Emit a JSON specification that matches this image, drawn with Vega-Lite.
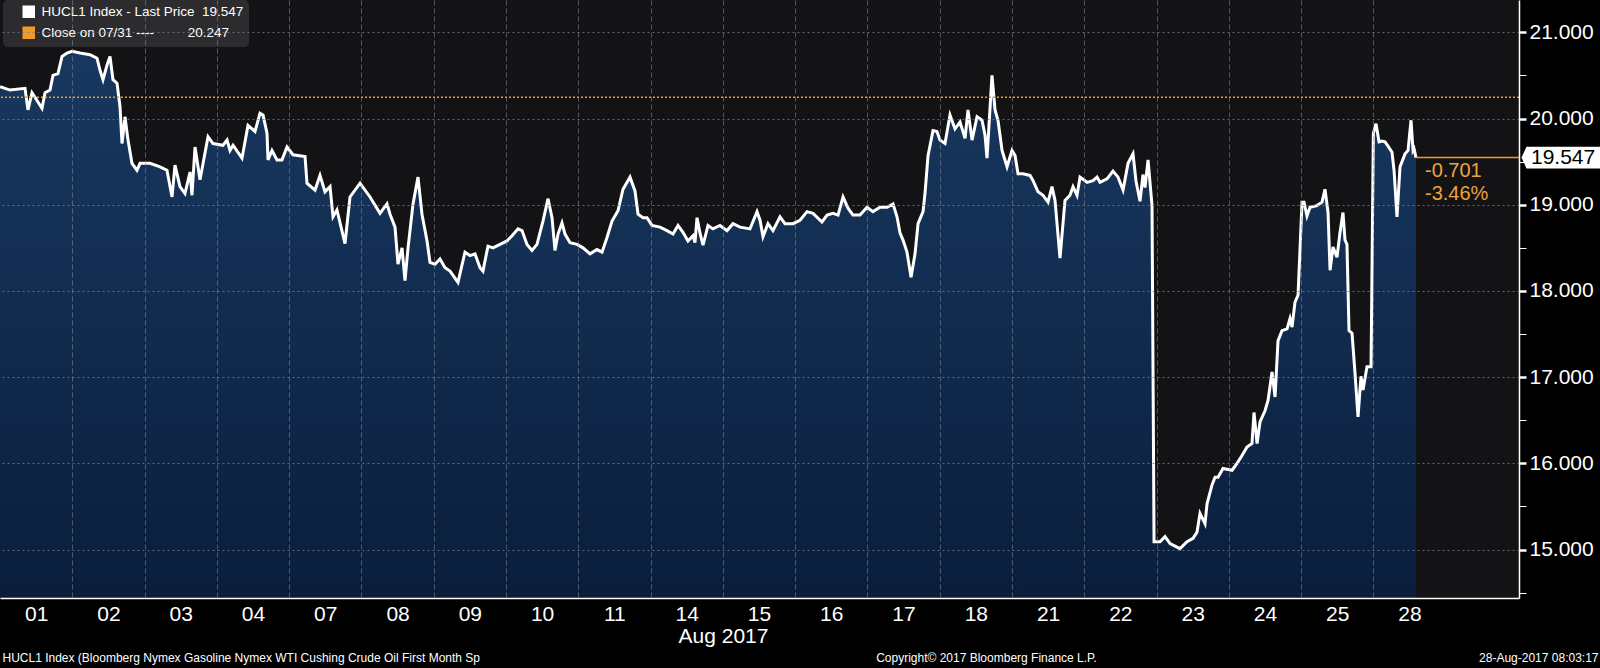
{
  "$schema": "https://vega.github.io/schema/vega-lite/v6.json",
  "width": 1519,
  "height": 598,
  "autosize": "none",
  "padding": {"left": 0, "top": 0, "right": 81, "bottom": 70},
  "background": "#000000",
  "config": {
    "view": {"fill": "#131315", "stroke": null},
    "font": "Liberation Sans",
    "axis": {"labelFont": "Liberation Sans", "titleFont": "Liberation Sans"},
    "legend": {"labelFont": "Liberation Sans"}
  },
  "datasets": {
    "price": [{"t":0,"v":20.37},{"t":0.138,"v":20.33},{"t":0.346,"v":20.35},{"t":0.387,"v":20.10},{"t":0.443,"v":20.30},{"t":0.581,"v":20.12},{"t":0.623,"v":20.30},{"t":0.692,"v":20.33},{"t":0.733,"v":20.50},{"t":0.802,"v":20.52},{"t":0.858,"v":20.72},{"t":0.927,"v":20.76},{"t":0.996,"v":20.78},{"t":1.107,"v":20.76},{"t":1.245,"v":20.74},{"t":1.342,"v":20.70},{"t":1.384,"v":20.56},{"t":1.425,"v":20.45},{"t":1.480,"v":20.62},{"t":1.522,"v":20.72},{"t":1.563,"v":20.45},{"t":1.619,"v":20.41},{"t":1.660,"v":20.14},{"t":1.688,"v":19.71},{"t":1.729,"v":20.02},{"t":1.771,"v":19.75},{"t":1.826,"v":19.48},{"t":1.895,"v":19.40},{"t":1.937,"v":19.48},{"t":2.075,"v":19.48},{"t":2.214,"v":19.44},{"t":2.310,"v":19.40},{"t":2.380,"v":19.09},{"t":2.421,"v":19.46},{"t":2.490,"v":19.21},{"t":2.559,"v":19.13},{"t":2.629,"v":19.38},{"t":2.656,"v":19.11},{"t":2.698,"v":19.67},{"t":2.767,"v":19.29},{"t":2.878,"v":19.79},{"t":2.947,"v":19.71},{"t":3.085,"v":19.69},{"t":3.141,"v":19.75},{"t":3.182,"v":19.63},{"t":3.224,"v":19.69},{"t":3.348,"v":19.54},{"t":3.431,"v":19.92},{"t":3.528,"v":19.85},{"t":3.597,"v":20.06},{"t":3.639,"v":20.04},{"t":3.694,"v":19.83},{"t":3.708,"v":19.52},{"t":3.763,"v":19.63},{"t":3.832,"v":19.52},{"t":3.901,"v":19.52},{"t":3.971,"v":19.67},{"t":4.054,"v":19.58},{"t":4.220,"v":19.56},{"t":4.247,"v":19.25},{"t":4.358,"v":19.17},{"t":4.427,"v":19.34},{"t":4.496,"v":19.15},{"t":4.566,"v":19.21},{"t":4.607,"v":18.86},{"t":4.662,"v":18.94},{"t":4.773,"v":18.55},{"t":4.842,"v":19.09},{"t":4.981,"v":19.25},{"t":5.119,"v":19.09},{"t":5.257,"v":18.90},{"t":5.354,"v":19.01},{"t":5.396,"v":18.89},{"t":5.465,"v":18.74},{"t":5.506,"v":18.31},{"t":5.562,"v":18.50},{"t":5.603,"v":18.12},{"t":5.645,"v":18.50},{"t":5.714,"v":19.01},{"t":5.783,"v":19.32},{"t":5.838,"v":18.89},{"t":5.908,"v":18.58},{"t":5.949,"v":18.33},{"t":6.018,"v":18.31},{"t":6.087,"v":18.37},{"t":6.157,"v":18.27},{"t":6.226,"v":18.23},{"t":6.336,"v":18.10},{"t":6.433,"v":18.45},{"t":6.502,"v":18.41},{"t":6.572,"v":18.43},{"t":6.641,"v":18.27},{"t":6.682,"v":18.23},{"t":6.751,"v":18.52},{"t":6.821,"v":18.50},{"t":6.918,"v":18.54},{"t":7.014,"v":18.58},{"t":7.084,"v":18.64},{"t":7.167,"v":18.72},{"t":7.222,"v":18.70},{"t":7.291,"v":18.54},{"t":7.360,"v":18.47},{"t":7.429,"v":18.54},{"t":7.512,"v":18.81},{"t":7.582,"v":19.07},{"t":7.637,"v":18.85},{"t":7.678,"v":18.47},{"t":7.720,"v":18.66},{"t":7.775,"v":18.79},{"t":7.817,"v":18.66},{"t":7.886,"v":18.56},{"t":7.983,"v":18.54},{"t":8.066,"v":18.50},{"t":8.163,"v":18.43},{"t":8.259,"v":18.48},{"t":8.329,"v":18.45},{"t":8.398,"v":18.62},{"t":8.467,"v":18.81},{"t":8.550,"v":18.93},{"t":8.619,"v":19.18},{"t":8.716,"v":19.32},{"t":8.785,"v":19.16},{"t":8.827,"v":18.89},{"t":8.896,"v":18.85},{"t":8.951,"v":18.85},{"t":9.020,"v":18.76},{"t":9.131,"v":18.74},{"t":9.228,"v":18.70},{"t":9.311,"v":18.66},{"t":9.380,"v":18.76},{"t":9.449,"v":18.68},{"t":9.518,"v":18.58},{"t":9.588,"v":18.64},{"t":9.615,"v":18.56},{"t":9.643,"v":18.85},{"t":9.685,"v":18.67},{"t":9.726,"v":18.53},{"t":9.795,"v":18.76},{"t":9.864,"v":18.72},{"t":9.961,"v":18.76},{"t":10.058,"v":18.70},{"t":10.141,"v":18.78},{"t":10.238,"v":18.74},{"t":10.376,"v":18.72},{"t":10.473,"v":18.92},{"t":10.515,"v":18.82},{"t":10.556,"v":18.63},{"t":10.625,"v":18.78},{"t":10.694,"v":18.70},{"t":10.791,"v":18.86},{"t":10.860,"v":18.78},{"t":10.971,"v":18.78},{"t":11.068,"v":18.82},{"t":11.165,"v":18.92},{"t":11.248,"v":18.90},{"t":11.372,"v":18.80},{"t":11.442,"v":18.88},{"t":11.525,"v":18.90},{"t":11.594,"v":18.88},{"t":11.663,"v":19.09},{"t":11.732,"v":18.96},{"t":11.801,"v":18.88},{"t":11.898,"v":18.88},{"t":11.995,"v":18.97},{"t":12.078,"v":18.92},{"t":12.175,"v":18.97},{"t":12.272,"v":18.97},{"t":12.355,"v":19.01},{"t":12.410,"v":18.86},{"t":12.452,"v":18.67},{"t":12.493,"v":18.59},{"t":12.548,"v":18.45},{"t":12.604,"v":18.16},{"t":12.659,"v":18.43},{"t":12.701,"v":18.78},{"t":12.770,"v":18.92},{"t":12.797,"v":19.13},{"t":12.839,"v":19.57},{"t":12.908,"v":19.86},{"t":12.963,"v":19.85},{"t":13.005,"v":19.75},{"t":13.074,"v":19.71},{"t":13.143,"v":20.04},{"t":13.212,"v":19.88},{"t":13.282,"v":19.96},{"t":13.351,"v":19.77},{"t":13.392,"v":20.10},{"t":13.448,"v":19.75},{"t":13.517,"v":20.02},{"t":13.586,"v":19.98},{"t":13.627,"v":19.81},{"t":13.655,"v":19.54},{"t":13.724,"v":20.50},{"t":13.766,"v":20.10},{"t":13.807,"v":19.98},{"t":13.863,"v":19.63},{"t":13.932,"v":19.44},{"t":14.001,"v":19.63},{"t":14.043,"v":19.57},{"t":14.084,"v":19.36},{"t":14.153,"v":19.36},{"t":14.250,"v":19.34},{"t":14.292,"v":19.28},{"t":14.361,"v":19.15},{"t":14.430,"v":19.11},{"t":14.499,"v":19.03},{"t":14.554,"v":19.21},{"t":14.596,"v":19.05},{"t":14.665,"v":18.38},{"t":14.734,"v":19.05},{"t":14.803,"v":19.11},{"t":14.845,"v":19.21},{"t":14.900,"v":19.11},{"t":14.942,"v":19.32},{"t":15.039,"v":19.26},{"t":15.122,"v":19.28},{"t":15.177,"v":19.32},{"t":15.219,"v":19.26},{"t":15.315,"v":19.30},{"t":15.398,"v":19.39},{"t":15.468,"v":19.32},{"t":15.537,"v":19.17},{"t":15.606,"v":19.48},{"t":15.675,"v":19.59},{"t":15.717,"v":19.27},{"t":15.772,"v":19.04},{"t":15.813,"v":19.35},{"t":15.841,"v":19.20},{"t":15.883,"v":19.52},{"t":15.938,"v":18.99},{"t":15.966,"v":15.09},{"t":16.049,"v":15.09},{"t":16.118,"v":15.15},{"t":16.187,"v":15.07},{"t":16.325,"v":15.01},{"t":16.422,"v":15.09},{"t":16.505,"v":15.13},{"t":16.560,"v":15.20},{"t":16.602,"v":15.42},{"t":16.671,"v":15.30},{"t":16.699,"v":15.53},{"t":16.768,"v":15.75},{"t":16.810,"v":15.84},{"t":16.851,"v":15.84},{"t":16.920,"v":15.94},{"t":17.045,"v":15.92},{"t":17.114,"v":16.00},{"t":17.183,"v":16.09},{"t":17.252,"v":16.19},{"t":17.321,"v":16.23},{"t":17.349,"v":16.59},{"t":17.391,"v":16.23},{"t":17.432,"v":16.48},{"t":17.501,"v":16.61},{"t":17.543,"v":16.73},{"t":17.598,"v":17.06},{"t":17.640,"v":16.77},{"t":17.681,"v":17.42},{"t":17.736,"v":17.54},{"t":17.806,"v":17.56},{"t":17.847,"v":17.68},{"t":17.875,"v":17.58},{"t":17.916,"v":17.87},{"t":17.958,"v":17.95},{"t":18.013,"v":19.03},{"t":18.041,"v":19.03},{"t":18.082,"v":18.87},{"t":18.124,"v":18.97},{"t":18.221,"v":18.99},{"t":18.290,"v":19.03},{"t":18.331,"v":19.18},{"t":18.373,"v":18.91},{"t":18.401,"v":18.24},{"t":18.442,"v":18.51},{"t":18.497,"v":18.39},{"t":18.539,"v":18.68},{"t":18.580,"v":18.91},{"t":18.608,"v":18.59},{"t":18.635,"v":18.54},{"t":18.663,"v":17.54},{"t":18.705,"v":17.51},{"t":18.746,"v":17.05},{"t":18.788,"v":16.54},{"t":18.829,"v":17.01},{"t":18.857,"v":16.85},{"t":18.912,"v":17.12},{"t":18.968,"v":17.12},{"t":19.000,"v":19.83},{"t":19.037,"v":19.94},{"t":19.078,"v":19.73},{"t":19.120,"v":19.74},{"t":19.161,"v":19.73},{"t":19.203,"v":19.68},{"t":19.258,"v":19.61},{"t":19.286,"v":19.40},{"t":19.327,"v":18.86},{"t":19.369,"v":19.44},{"t":19.438,"v":19.59},{"t":19.480,"v":19.63},{"t":19.521,"v":19.98},{"t":19.549,"v":19.63},{"t":19.563,"v":19.65},{"t":19.590,"v":19.547}],
    "close": [{"v": 20.247}],
    "last": [{"t": 19.590, "v": 19.547, "last": "19.547", "chg": "-0.701", "pct": "-3.46%"}]
  },
  "resolve": {"axis": {"x": "independent", "y": "independent"}},
  "layer": [
    {
      "data": {"name": "price"},
      "mark": {
        "type": "area",
        "interpolate": "linear",
        "color": {"gradient": "linear", "x1": 0, "y1": 0, "x2": 0, "y2": 1,
          "stops": [{"offset": 0, "color": "#183860"}, {"offset": 1, "color": "#0a1e3c"}]}
      },
      "encoding": {
        "x": {
          "field": "t", "type": "quantitative",
          "scale": {"domain": [0, 21.015], "nice": false, "zero": false},
          "axis": {
            "orient": "bottom",
            "values": [0.5,1,1.5,2,2.5,3,3.5,4,4.5,5,5.5,6,6.5,7,7.5,8,8.5,9,9.5,10,10.5,11,11.5,12,12.5,13,13.5,14,14.5,15,15.5,16,16.5,17,17.5,18,18.5,19,19.5],
            "labelExpr": "datum.value % 1 === 0.5 ? ['01','02','03','04','07','08','09','10','11','14','15','16','17','18','21','22','23','24','25','28'][floor(datum.value)] : ''",
            "grid": true,
            "gridColor": "#8c8c94",
            "gridDash": [5, 3],
            "gridWidth": 1,
            "gridOpacity": {"condition": {"test": "datum.value % 1 === 0", "value": 0.55}, "value": 0},
            "ticks": false,
            "domain": true,
            "domainColor": "#ffffff",
            "domainWidth": 1.5,
            "labelColor": "#ffffff",
            "labelFontSize": 21,
            "labelPadding": 5,
            "labelBaseline": "top",
            "labelOverlap": false,
            "labelBound": false,
            "labelFlush": false,
            "title": "Aug 2017",
            "titleX": 723,
            "titleY": 38,
            "titleAlign": "center",
            "titleBaseline": "middle",
            "titleColor": "#ffffff",
            "titleFontSize": 21,
            "titleFontWeight": "normal",
            "zindex": 1
          }
        },
        "y": {
          "field": "v", "type": "quantitative",
          "stack": null,
          "scale": {"domain": [14.438, 21.375], "nice": false, "zero": false},
          "axis": {
            "orient": "right",
            "values": [14.5,15,15.5,16,16.5,17,17.5,18,18.5,19,19.5,20,20.5,21],
            "labelExpr": "datum.value % 1 === 0 ? format(datum.value, '.3f') : ''",
            "grid": true,
            "gridColor": "#7a7a80",
            "gridDash": [2, 3],
            "gridWidth": 1,
            "gridOpacity": {"condition": {"test": "datum.value % 1 === 0", "value": 0.8}, "value": 0},
            "ticks": true,
            "tickSize": 7,
            "tickColor": "#ffffff",
            "tickWidth": {"condition": {"test": "datum.value % 1 === 0", "value": 2.5}, "value": 1},
            "domain": true,
            "domainColor": "#ffffff",
            "domainWidth": 1.5,
            "labelColor": "#ffffff",
            "labelFontSize": 21,
            "labelPadding": 3,
            "labelBaseline": "middle",
            "labelOverlap": false,
            "labelBound": false,
            "labelFlush": false,
            "title": "28-Aug-2017 08:03:17",
            "titleAngle": 0,
            "titleX": 79,
            "titleY": 657,
            "titleAlign": "right",
            "titleBaseline": "middle",
            "titleColor": "#ffffff",
            "titleFontSize": 12,
            "titleFontWeight": "normal",
            "zindex": 1
          }
        },
        "y2": {"value": "height"}
      }
    },
    {
      "data": {"name": "price"},
      "mark": {"type": "line", "strokeWidth": 3, "interpolate": "linear"},
      "encoding": {
        "x": {
          "field": "t", "type": "quantitative",
          "axis": {
            "orient": "top",
            "labels": false, "ticks": false, "domain": false, "grid": false,
            "title": "Copyright\u00a9 2017 Bloomberg Finance L.P.",
            "titleX": 986,
            "titleY": 657,
            "titleAlign": "center",
            "titleBaseline": "middle",
            "titleColor": "#ffffff",
            "titleFontSize": 12,
            "titleFontWeight": "normal",
            "zindex": 1
          }
        },
        "y": {
          "field": "v", "type": "quantitative",
          "axis": {
            "orient": "left",
            "labels": false, "ticks": false, "domain": false, "grid": false,
            "title": "HUCL1 Index (Bloomberg Nymex Gasoline Nymex WTI Cushing Crude Oil First Month Sp",
            "titleAngle": 0,
            "titleX": 2,
            "titleY": 657,
            "titleAlign": "left",
            "titleBaseline": "middle",
            "titleColor": "#ffffff",
            "titleFontSize": 12,
            "titleFontWeight": "normal",
            "zindex": 1
          }
        },
        "color": {
          "datum": "HUCL1 Index - Last Price",
          "type": "nominal",
          "scale": {"domain": ["HUCL1 Index - Last Price", "Close on 07/31 ----"], "range": ["#ffffff", "#ef9a2c"]},
          "legend": {
            "orient": "none",
            "legendX": 3,
            "legendY": 0,
            "direction": "vertical",
            "title": null,
            "fillColor": "#2c2c2f",
            "cornerRadius": 5,
            "padding": 5,
            "symbolOffset": 14,
            "symbolType": "square",
            "symbolSize": 121,
            "labelOffset": 6,
            "labelFontSize": 13.5,
            "labelColor": "#ffffff",
            "labelLimit": 400,
            "rowPadding": 3,
            "labelExpr": "datum.label === 'HUCL1 Index - Last Price' ? 'HUCL1 Index - Last Price\u00a0\u00a019.547' : 'Close on 07/31 ----\u00a0\u00a0\u00a0\u00a0\u00a0\u00a0\u00a0\u00a0\u00a020.247'",
            "encode": {
              "symbols": {"update": {"fill": {"scale": "color", "field": "value"}, "stroke": {"value": "transparent"}, "opacity": {"value": 1}}}
            }
          }
        }
      }
    },
    {
      "data": {"name": "close"},
      "mark": {"type": "rule", "strokeDash": [2, 2], "strokeWidth": 1.6},
      "encoding": {
        "y": {"field": "v", "type": "quantitative", "axis": null},
        "color": {"datum": "Close on 07/31 ----", "type": "nominal"}
      }
    },
    {
      "data": {"name": "last"},
      "mark": {"type": "rule", "color": "#ef9a2c", "strokeWidth": 1.5},
      "encoding": {
        "x": {"field": "t", "type": "quantitative", "axis": null},
        "x2": {"value": "width"},
        "y": {"field": "v", "type": "quantitative", "axis": null}
      }
    },
    {
      "data": {"name": "last"},
      "mark": {"type": "text", "align": "left", "baseline": "middle", "dx": 9, "dy": 13, "fontSize": 20, "color": "#eea23c", "font": "Liberation Sans"},
      "encoding": {
        "x": {"field": "t", "type": "quantitative", "axis": null},
        "y": {"field": "v", "type": "quantitative", "axis": null},
        "text": {"field": "chg"}
      }
    },
    {
      "data": {"name": "last"},
      "mark": {"type": "text", "align": "left", "baseline": "middle", "dx": 9, "dy": 36, "fontSize": 20, "color": "#eea23c", "font": "Liberation Sans"},
      "encoding": {
        "x": {"field": "t", "type": "quantitative", "axis": null},
        "y": {"field": "v", "type": "quantitative", "axis": null},
        "text": {"field": "pct"}
      }
    },
    {
      "data": {"name": "last"},
      "mark": {"type": "point", "shape": "M -1 0 L -0.875 -0.27 L 1.05 -0.27 L 1.05 0.27 L -0.875 0.27 Z", "size": 6400, "filled": true, "color": "#ffffff", "opacity": 1, "strokeWidth": 0, "xOffset": 42.5},
      "encoding": {
        "x": {"value": "width"},
        "y": {"field": "v", "type": "quantitative", "axis": null}
      }
    },
    {
      "data": {"name": "last"},
      "mark": {"type": "text", "align": "left", "baseline": "middle", "dx": 12, "fontSize": 21, "color": "#000000", "font": "Liberation Sans"},
      "encoding": {
        "x": {"value": "width"},
        "y": {"field": "v", "type": "quantitative", "axis": null},
        "text": {"field": "last"}
      }
    }
  ]
}
